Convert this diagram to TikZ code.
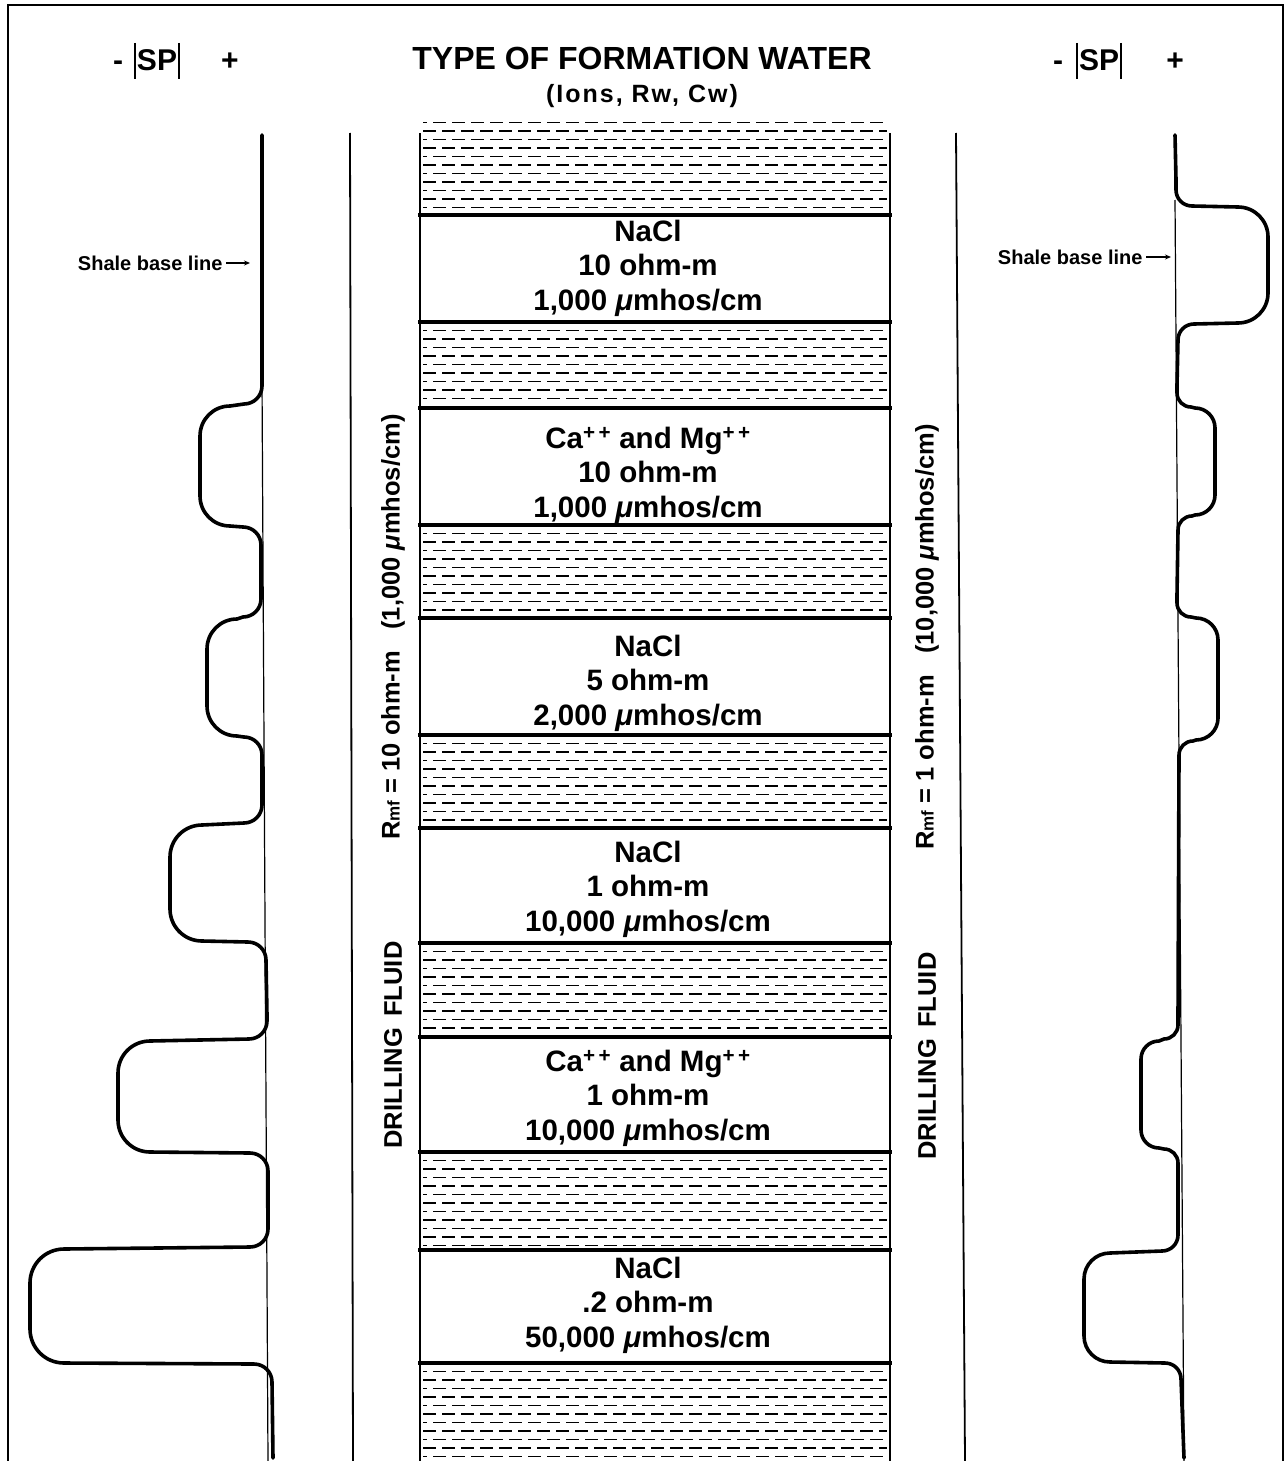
\documentclass[tikz,border=0pt]{standalone}
\usepackage{fontspec}
\setmainfont{Liberation Sans}
\usetikzlibrary{arrows.meta}
% bump to the left of the base line: #1 x in, #2 extreme x, #3 top, #4 bottom, #5 x out, #6 inner radius, #7 outer radius
\newcommand\spbumpL[7]{%
 -- (#1,#3-#6) to[out=-90,in=0] ({#1-#6},#3) -- ({#2+#7},{#3+2}) to[out=180,in=90] (#2,{#3+2+#7})
 -- (#2,{#4-#7}) to[out=-90,in=180] ({#2+#7},#4) -- ({#5-#6},{#4+1}) to[out=0,in=90] (#5,{#4+1+#6})}
% bump to the right of the base line
\newcommand\spbumpR[7]{%
 -- (#1,#3-#6) to[out=-90,in=180] ({#1+#6},#3) -- ({#2-#7},{#3+1}) to[out=0,in=90] (#2,{#3+1+#7})
 -- (#2,{#4-#7}) to[out=-90,in=0] ({#2-#7},#4) -- ({#5+#6},{#4+1}) to[out=180,in=90] (#5,{#4+1+#6})}
\begin{document}
\begin{tikzpicture}[x=1pt,y=-1pt,
  curve/.style={line width=3.6pt,line cap=round,line join=round},
  thinline/.style={line width=1.8pt},
  colside/.style={line width=2.6pt},
  bound/.style={line width=4pt},
  hatch/.style={line width=1.5pt,dash pattern=on 13pt off 6pt},
  body/.style={font=\fontsize{29.5}{34.5}\selectfont\bfseries,align=center},
  vlab/.style={font=\fontsize{25.5}{28}\selectfont\bfseries,rotate=90},
  sbl/.style={font=\fontsize{20}{22}\selectfont\bfseries},
  head/.style={font=\fontsize{30}{34}\selectfont\bfseries,anchor=base},
]
\useasboundingbox (0,0) rectangle (1287,1461);
\fill[white] (0,0) rectangle (1287,1461);
% frame
\draw[line width=2.5pt] (8,1461) -- (8,5) -- (1283,5) -- (1283,1461);

% headings
\node[font=\fontsize{32}{36}\selectfont\bfseries] (title) at (642,58) {TYPE OF FORMATION WATER};
\node[font=\fontsize{25}{28}\selectfont\bfseries\addfontfeature{LetterSpace=8}] (sub) at (642,96) {(Ions, Rw, Cw)};

\node[head] (mL) at (118,71) {-};
\node[head] (spL) at (157,71) {SP};
\node[head] (pL) at (230,71) {+};
\draw[line width=1.6pt] (135,43) -- (135,79) (179,43) -- (179,79);
\node[head] (mR) at (1058,71) {-};
\node[head] (spR) at (1099,71) {SP};
\node[head] (pR) at (1175,71) {+};
\draw[line width=1.6pt] (1077,43) -- (1077,79) (1121,43) -- (1121,79);

% shale hatching
\foreach \a/\b in {114/215,322/408,525/618,735/828,943/1037,1152/1250,1363/1461}{
  \pgfmathsetmacro\s{\a+8.5}
  \pgfmathsetmacro\t{\a+17}
  \pgfmathsetmacro\e{\b-4}
  \foreach \y [count=\i] in {\s,\t,...,\e}{
    \pgfmathsetmacro\ph{mod(\i,2)*9}
    \draw[hatch,dash phase=\ph pt] (423,\y) -- (887,\y);
  }
}
% column
\draw[colside] (420,133) -- (420,1461);
\draw[colside] (890,133) -- (890,1461);
\foreach \y in {215,322,408,525,618,735,828,943,1037,1152,1250,1363}{
  \draw[bound] (418,\y) -- (892,\y);
}
% vertical lines beside column
\draw[thinline] (350,133) -- (353,1461);
\draw[thinline] (956,133) -- (965,1461);

% layer texts
\node[body] (L1) at (648,268) {NaCl\\10 ohm-m\\1,000 \textit{μ}mhos/cm};
\node[body] (L2) at (648,475) {Ca\textsuperscript{+\,+} and Mg\textsuperscript{+\,+}\\10 ohm-m\\1,000 \textit{μ}mhos/cm};
\node[body] (L3) at (648,683) {NaCl\\5 ohm-m\\2,000 \textit{μ}mhos/cm};
\node[body] (L4) at (648,889) {NaCl\\1 ohm-m\\10,000 \textit{μ}mhos/cm};
\node[body] (L5) at (648,1098) {Ca\textsuperscript{+\,+} and Mg\textsuperscript{+\,+}\\1 ohm-m\\10,000 \textit{μ}mhos/cm};
\node[body] (L6) at (648,1305) {NaCl\\.2 ohm-m\\50,000 \textit{μ}mhos/cm};

% vertical labels
\node[vlab] (rmfL) at (393,627) {R{\fontsize{17}{17}\selectfont mf} = 10 ohm-m~~~(1,000 \textit{μ}mhos/cm)};
\node[vlab] (dfL) at (393,1045) {DRILLING\hspace{0.45em}FLUID};
\node[vlab] (rmfR) at (927,637) {R{\fontsize{17}{17}\selectfont mf} = 1 ohm-m~~~(10,000 \textit{μ}mhos/cm)};
\node[vlab] (dfR) at (927,1056) {DRILLING\hspace{0.45em}FLUID};

% shale base lines
\draw[line width=1.2pt] (262,380) -- (268,1461);
\draw[line width=1.2pt] (1175,200) -- (1184,1461);

% left SP curve
\draw[curve] (262,135) -- (262,360)
  \spbumpL{262}{200}{404}{526}{261}{18}{30}
  -- (261,595)
  \spbumpL{261}{207}{617}{736}{262}{18}{30}
  -- (262,800)
  \spbumpL{262}{170}{823}{941}{266}{18}{32}
  -- (267,1015)
  \spbumpL{267}{118}{1039}{1152}{268}{18}{32}
  -- (268,1225)
  \spbumpL{268}{30}{1247}{1363}{272}{18}{34}
  -- (273,1458);

% right SP curve
\draw[curve] (1175,135) -- (1176,180)
  \spbumpR{1176}{1268}{206}{323}{1178}{16}{30}
  -- (1177,385)
  \spbumpR{1177}{1215}{407}{515}{1178}{14}{20}
  -- (1177,595)
  \spbumpR{1177}{1218}{617}{740}{1179}{14}{22}
  -- (1178,1015)
  \spbumpL{1178}{1141}{1039}{1148}{1178}{14}{18}
  -- (1178,1230)
  \spbumpL{1178}{1084}{1251}{1362}{1181}{16}{26}
  -- (1184,1458);

% shale base line labels
\coordinate (aL) at (250,263);
\coordinate (aR) at (1171,257);
\node[sbl,anchor=east] (sblL) at (226,263) {Shale base line};
\node[sbl,anchor=east] (sblR) at (1146,257) {Shale base line};
\draw[line width=1.5pt,-{Stealth[length=6pt,width=5pt]}] (sblL.east) -- (aL);
\draw[line width=1.5pt,-{Stealth[length=6pt,width=5pt]}] (sblR.east) -- (aR);
\end{tikzpicture}
\end{document}
